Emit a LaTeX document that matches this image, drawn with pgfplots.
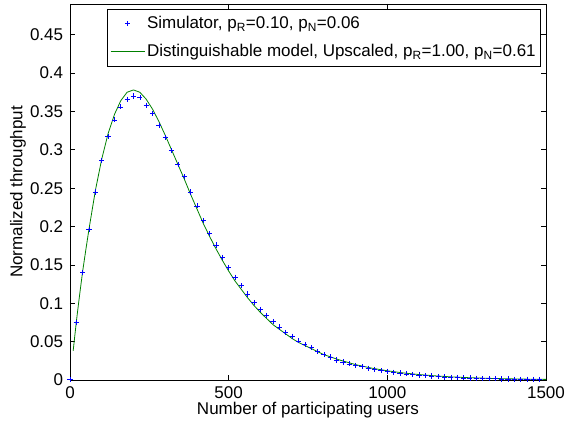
\documentclass[border=0pt]{standalone}
\usepackage{fontspec}
\setmainfont{Liberation Sans}
\usepackage{pgfplots}
\usepackage{pgfplotstable}
\pgfplotsset{compat=1.18}
\definecolor{mblue}{rgb}{0,0,1}
\definecolor{mgreen}{rgb}{0,0.5,0}

\pgfplotstableread{
x y
0 0.0005
20 0.075
40 0.140
60 0.196
80 0.245
100 0.286
120 0.317
140 0.339
160 0.356
180 0.366
200 0.370
220 0.368
240 0.358
260 0.347
280 0.332
300 0.316
320 0.299
340 0.281
360 0.265
380 0.245
400 0.227
420 0.208
440 0.191
460 0.176
480 0.160
500 0.147
520 0.134
540 0.123
560 0.112
580 0.101
600 0.092
620 0.084
640 0.076
660 0.069
680 0.062
700 0.057
720 0.051
740 0.046
760 0.042
780 0.037
800 0.033
820 0.030
840 0.026
860 0.0235
880 0.021
900 0.019
920 0.0172
940 0.0153
960 0.0136
980 0.0122
1000 0.0112
1020 0.0102
1040 0.0091
1060 0.0080
1080 0.0071
1100 0.0064
1120 0.0057
1140 0.0051
1160 0.0045
1180 0.0040
1200 0.0036
1220 0.0032
1240 0.0028
1260 0.0025
1280 0.0022
1300 0.0020
1320 0.0018
1340 0.0016
1360 0.0014
1380 0.0012
1400 0.0011
1420 0.0010
1440 0.0009
1460 0.0008
1480 0.0007
}\simdata

\pgfplotstableread{
x y
10 0.038
20 0.076
30 0.110
40 0.142
50 0.170
60 0.197
80 0.247
100 0.288
120 0.321
140 0.346
160 0.364
180 0.375
200 0.378
220 0.375
240 0.366
260 0.353
280 0.337
300 0.319
320 0.300
340 0.281
360 0.262
380 0.242
400 0.223
420 0.204
440 0.187
460 0.171
480 0.156
500 0.142
520 0.129
540 0.118
560 0.107
580 0.097
600 0.088
620 0.080
640 0.072
660 0.066
680 0.060
700 0.054
720 0.049
740 0.045
760 0.041
780 0.037
800 0.033
850 0.026
900 0.020
950 0.0155
1000 0.012
1050 0.0092
1100 0.0071
1150 0.0054
1200 0.0041
1250 0.0031
1300 0.0024
1350 0.0018
1400 0.0014
1450 0.0010
1500 0.0008
}\modeldata

\begin{document}
\fontsize{17}{20.4}\selectfont
\begin{tikzpicture}
\begin{axis}[
  scale only axis, width=476pt, height=376pt,
  xmin=0, xmax=1500, ymin=0, ymax=0.49,
  xtick={0,500,1000,1500},
  xticklabels={0,500,1000,1500},
  ytick={0,0.05,0.1,0.15,0.2,0.25,0.3,0.35,0.4,0.45},
  yticklabels={0,0.05,0.1,0.15,0.2,0.25,0.3,0.35,0.4,0.45},
  tick align=inside,
  major tick length=5pt,
  axis line style={line width=0.7pt},
  every tick/.style={black, line width=0.6pt},
  xlabel={Number of participating users},
  ylabel={Normalized throughput},
  xlabel style={at={(axis description cs:0.5,-0.0798)}, anchor=center},
  ylabel style={at={(axis description cs:-0.1092,0.5)}, anchor=center},
  xticklabel style={yshift=-1pt},
  yticklabel style={xshift=-1pt},
  legend style={at={(rel axis cs:1,1)}, anchor=north east, xshift=-5pt, yshift=-5pt,
    draw=black, line width=0.6pt, inner xsep=3pt, inner ysep=6pt, row sep=11pt,
    nodes={inner xsep=2pt, inner ysep=1pt},
    font=\fontsize{17}{20.4}\selectfont},
  legend cell align=left,
  legend image code/.code={\draw[mark repeat=2,mark phase=2,#1] plot coordinates {(0pt,0pt) (17pt,0pt) (34pt,0pt)};},
]
\addplot[only marks, mark=+, mark size=2.6pt, mblue, line width=0.6pt] table[x=x,y=y] {\simdata};
\addlegendentry{Simulator, p\textsubscript{R}=0.10, p\textsubscript{N}=0.06}
\addplot[mgreen, line width=0.8pt, no marks] table[x=x,y=y] {\modeldata};
\addlegendentry{Distinguishable model, Upscaled, p\textsubscript{R}=1.00, p\textsubscript{N}=0.61}
\end{axis}
\pgfresetboundingbox
\path ([xshift=-70pt,yshift=-43pt]current axis.south west) rectangle ([xshift=19pt,yshift=4pt]current axis.north east);
\end{tikzpicture}
\end{document}
